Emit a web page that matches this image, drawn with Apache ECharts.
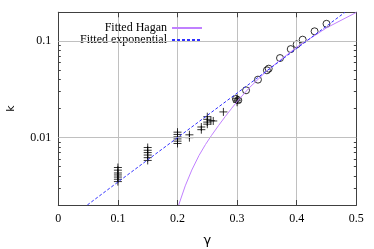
<!DOCTYPE html>
<html>
<head>
<meta charset="utf-8">
<script src="https://cdn.jsdelivr.net/npm/echarts@6/dist/echarts.min.js"></script>
<style>html,body{margin:0;padding:0;background:#fff;}#c{width:374px;height:249px;}</style>
</head>
<body>
<div id="c"></div>
<script>
// ---- data ----
const crossGamma = [0.1,0.1,0.1,0.1,0.1,0.1,0.1,
  0.15,0.15,0.15,0.15,0.15,0.15,
  0.2,0.2,0.2,0.2,0.2,0.2,
  0.22,0.22, 0.24,0.24,
  0.25,0.25,0.25,0.25,0.256,0.26,
  0.277, 0.3,0.3,0.3];
const crossK = [0.0035,0.0037,0.0039,0.0041,0.0043,0.0046,0.0049,
  0.0058,0.0062,0.0066,0.0070,0.0074,0.0079,
  0.0087,0.0092,0.0097,0.0102,0.0108,0.0114,
  0.0107,0.0100, 0.0129,0.0121,
  0.0165,0.0155,0.0145,0.0138,0.0150,0.0149,
  0.0185, 0.0233,0.0245,0.0256];
const circleGamma = [0.298,0.302,0.315,0.335,0.35,0.353,0.372,0.39,0.40,0.41,0.43,0.45];
const circleK = [0.0252,0.0245,0.031,0.040,0.050,0.052,0.067,0.083,0.093,0.104,0.127,0.152];
const hagGamma = [0.202,0.213,0.224,0.236,0.247,0.257,0.269,0.280,0.291,0.300,0.32,0.35,0.40,0.45,0.50];
const hagK = [0.0020,0.00316,0.00461,0.00652,0.0085,0.01053,0.01339,0.01652,0.0202,0.0237,0.0327,0.0495,0.0870,0.1379,0.1994];
const expGamma = [0.0487,0.1,0.2,0.3,0.4,0.481];
const expK = [0.002,0.00346,0.0100,0.0290,0.0843,0.2];
const xTicks = [0, 0.1, 0.2, 0.3, 0.4, 0.5];
const yMajorTicks = [0.01, 0.1];
const yMajorLabels = ['0.01', '0.1'];
const yMinorTicks = [0.002,0.003,0.004,0.005,0.006,0.007,0.008,0.009,
  0.02,0.03,0.04,0.05,0.06,0.07,0.08,0.09,0.2];

const pairs = (xs, ys) => xs.map((x, i) => [x, ys[i]]);
const serif = '"Liberation Serif", "DejaVu Serif", serif';
const sans = '"DejaVu Sans", "Liberation Sans", sans-serif';
const borderCol = '#404040';
const gridCol = '#c0c0c0';

const chart = echarts.init(document.getElementById('c'), null, {renderer: 'canvas'});

function yAxisCfg(pos, tickVals, len, withLabels, name) {
  return {
    type: 'log', logBase: 10, min: 0.002, max: 0.2, position: pos,
    name: name || '', nameLocation: 'middle', nameGap: 42, nameRotate: 90,
    nameTextStyle: {fontFamily: sans, fontSize: 11, color: '#000'},
    axisLine: {show: true, lineStyle: {color: borderCol, width: 1}},
    axisTick: {show: true, inside: true, length: len, customValues: tickVals,
      lineStyle: {color: borderCol, width: 1}},
    axisLabel: withLabels ? {show: true, customValues: yMajorTicks, margin: 7,
      fontFamily: serif, fontSize: 12, color: '#000',
      formatter: v => yMajorLabels[yMajorTicks.findIndex(t => Math.abs(Math.log10(t) - Math.log10(v)) < 1e-6)] || ''} : {show: false},
    splitLine: {show: false},
    minorTick: {show: false}
  };
}

const option = {
  animation: false,
  backgroundColor: '#fff',
  grid: {left: 58.3, right: 17.7, top: 12.3, bottom: 44, show: false, containLabel: false, outerBoundsMode: 'none'},
  legend: {
    data: ['Fitted Hagan', 'Fitted exponential'],
    orient: 'vertical', align: 'right', right: 166, top: 17,
    itemWidth: 30, itemHeight: 14, itemGap: 0,
    itemStyle: {opacity: 0},
    textStyle: {fontFamily: serif, fontSize: 12, color: '#000'},
    selectedMode: false
  },
  xAxis: [
    {type: 'value', min: 0, max: 0.5, interval: 0.1, position: 'bottom',
      name: 'γ', nameLocation: 'middle', nameGap: 29,
      nameTextStyle: {fontFamily: sans, fontSize: 13, color: '#000'},
      axisLine: {show: true, onZero: false, lineStyle: {color: borderCol, width: 1}},
      axisTick: {show: true, inside: true, length: 5, lineStyle: {color: borderCol}},
      axisLabel: {margin: 8, fontFamily: serif, fontSize: 12, color: '#000',
        formatter: v => String(xTicks[Math.round(v * 10)])},
      splitLine: {show: true, lineStyle: {color: gridCol, width: 1}}},
    {type: 'value', min: 0, max: 0.5, interval: 0.1, position: 'top',
      axisLine: {show: true, onZero: false, lineStyle: {color: borderCol, width: 1}},
      axisTick: {show: true, inside: true, length: 5, lineStyle: {color: borderCol}},
      axisLabel: {show: false}, splitLine: {show: false}}
  ],
  yAxis: [
    yAxisCfg('left', yMajorTicks, 5, true, 'k'),
    yAxisCfg('left', yMinorTicks, 2.5, false),
    yAxisCfg('right', yMajorTicks, 5, false),
    yAxisCfg('right', yMinorTicks, 2.5, false)
  ],
  series: [
    {name: 'grid', type: 'line', data: [], silent: true,
      markLine: {silent: true, symbol: 'none', label: {show: false},
        lineStyle: {color: gridCol, width: 1, type: 'solid'},
        data: yMajorTicks.map(v => ({yAxis: v}))}},
    {name: 'crosses', type: 'scatter', data: pairs(crossGamma, crossK),
      symbol: 'path://M0,5L10,5M5,0L5,10', symbolSize: 8,
      itemStyle: {color: 'rgba(0,0,0,0)', borderColor: '#000', borderWidth: 1}, z: 3},
    {name: 'circles', type: 'scatter', data: pairs(circleGamma, circleK),
      symbol: 'circle', symbolSize: 7,
      itemStyle: {color: 'rgba(0,0,0,0)', borderColor: '#000', borderWidth: 1}, z: 3},
    {name: 'Fitted Hagan', type: 'line', data: pairs(hagGamma, hagK), symbol: 'none',
      smooth: false, lineStyle: {color: '#c080ff', width: 1}, itemStyle: {color: '#c080ff'}, z: 4},
    {name: 'Fitted exponential', type: 'line', data: pairs(expGamma, expK), symbol: 'none',
      lineStyle: {color: '#3030ff', width: 1, type: [3, 2]}, itemStyle: {color: '#3030ff'}, z: 5}
  ]
};
chart.setOption(option);
</script>
</body>
</html>
